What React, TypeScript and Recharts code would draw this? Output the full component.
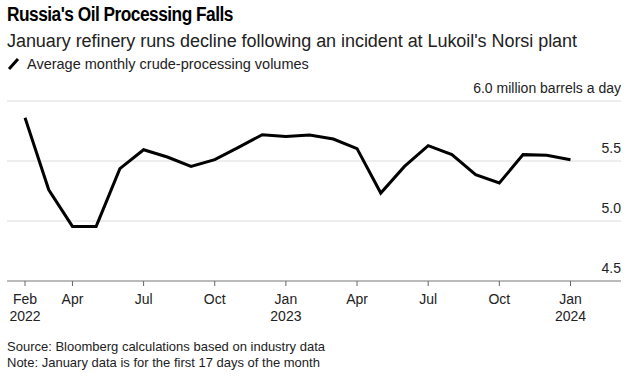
import { LineChart, Line, XAxis, YAxis, CartesianGrid } from 'recharts'

const months = [
  'Feb', 'Mar', 'Apr', 'May', 'Jun', 'Jul', 'Aug', 'Sep', 'Oct', 'Nov', 'Dec',
  'Jan', 'Feb', 'Mar', 'Apr', 'May', 'Jun', 'Jul', 'Aug', 'Sep', 'Oct', 'Nov', 'Dec', 'Jan',
]
const volumes = [
  5.86, 5.26, 4.955, 4.955, 5.436, 5.594, 5.533, 5.455, 5.511, 5.613, 5.719,
  5.705, 5.716, 5.683, 5.603, 5.233, 5.455, 5.628, 5.553, 5.386, 5.317, 5.553, 5.547, 5.511,
]
const xTicks = [0, 2, 5, 8, 11, 14, 17, 20, 23]
const yearLabels: Record<number, string> = { 0: '2022', 11: '2023', 23: '2024' }
const yTicks = [4.5, 5.0, 5.5, 6.0]

const data = volumes.map((v, i) => ({ idx: i, month: months[i], value: v }))

const FONT = '"Liberation Sans", Arial, sans-serif'

function XTick({ x, y, payload }: any) {
  const i = payload.value
  return (
    <g>
      <text x={x} y={y + 16} textAnchor="middle" fontSize={14} fill="#222" fontFamily={FONT}>
        {months[i]}
      </text>
      {yearLabels[i] && (
        <text x={x} y={y + 33} textAnchor="middle" fontSize={14} fill="#222" fontFamily={FONT}>
          {yearLabels[i]}
        </text>
      )}
    </g>
  )
}

function YTick({ y, payload }: any) {
  const v = payload.value
  const label = v === 6 ? '6.0 million barrels a day' : v.toFixed(1)
  return (
    <text x={621} y={y - 8} textAnchor="end" fontSize={14} fill="#222" fontFamily={FONT}>
      {label}
    </text>
  )
}

export default function App() {
  return (
    <div style={{ position: 'absolute', left: 0, top: 0, width: 628, height: 376, background: '#fff', fontFamily: FONT }}>
      <div
        style={{
          position: 'absolute', left: 7, top: 3, fontSize: 20, fontWeight: 'bold', color: '#000',
          letterSpacing: -0.6, transform: 'scaleX(0.866)', transformOrigin: 'left center', whiteSpace: 'nowrap',
        }}
      >
        Russia's Oil Processing Falls
      </div>
      <div style={{ position: 'absolute', left: 7, top: 31, fontSize: 18, color: '#222', letterSpacing: -0.05, whiteSpace: 'nowrap' }}>
        January refinery runs decline following an incident at Lukoil's Norsi plant
      </div>
      <div style={{ position: 'absolute', left: 7, top: 56, fontSize: 14.5, color: '#222', display: 'flex', alignItems: 'center', whiteSpace: 'nowrap' }}>
        <svg width={14} height={14} style={{ marginRight: 6 }}>
          <line x1={2} y1={12} x2={11} y2={2} stroke="#000" strokeWidth={3} />
        </svg>
        <span>Average monthly crude-processing volumes</span>
      </div>
      <div style={{ position: 'absolute', left: 0, top: 0 }}>
        <LineChart width={628} height={376} data={data} margin={{ top: 101, right: 6, bottom: 0, left: 7 }}>
          <CartesianGrid horizontal vertical={false} stroke="#dcdcdc" />
          <XAxis
            dataKey="idx"
            type="number"
            domain={[-0.76, 25.13]}
            ticks={xTicks}
            allowDataOverflow
            tick={<XTick />}
            tickSize={5}
            stroke="#666"
            tickLine={{ stroke: '#666' }}
            axisLine={{ stroke: '#888' }}
            height={95}
            interval={0}
          />
          <YAxis
            orientation="right"
            domain={[4.5, 6]}
            ticks={yTicks}
            width={1}
            axisLine={false}
            tickLine={false}
            tick={<YTick />}
          />
          <Line
            dataKey="value"
            type="linear"
            stroke="#000"
            strokeWidth={3}
            dot={false}
            isAnimationActive={false}
          />
        </LineChart>
      </div>
      <div style={{ position: 'absolute', left: 7, top: 339, fontSize: 13, color: '#222', lineHeight: '16px' }}>
        <div>Source: Bloomberg calculations based on industry data</div>
        <div>Note: January data is for the first 17 days of the month</div>
      </div>
    </div>
  )
}
